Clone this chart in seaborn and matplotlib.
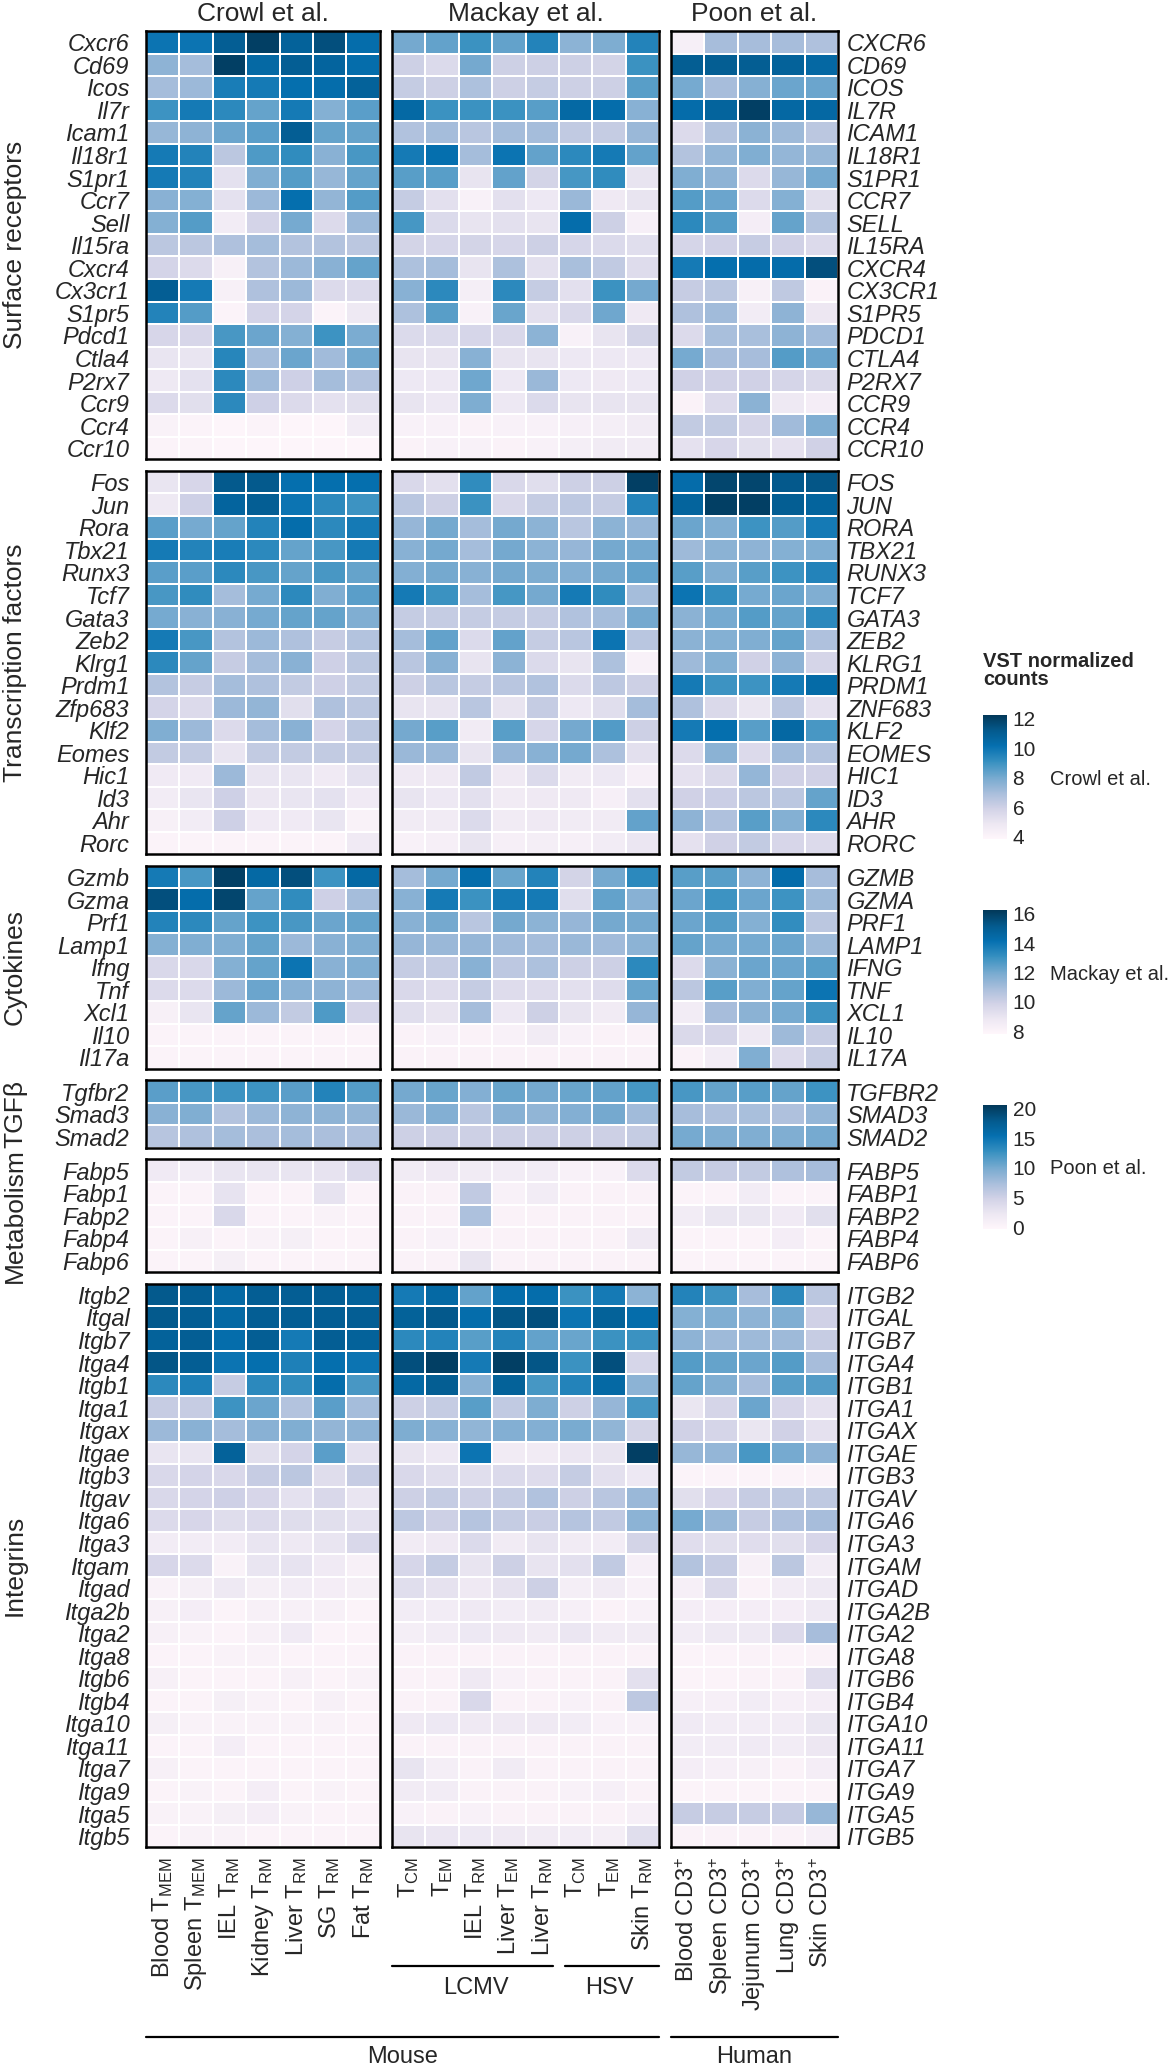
import numpy as np
import pandas as pd
import matplotlib
matplotlib.use('Agg')
import matplotlib.pyplot as plt
from matplotlib.lines import Line2D
import seaborn as sns

sns.set_style('white')
plt.rcParams['font.family'] = ['Liberation Sans', 'DejaVu Sans']
plt.rcParams['mathtext.fontset'] = 'custom'
plt.rcParams['mathtext.rm'] = 'Liberation Sans'
plt.rcParams['mathtext.it'] = 'Liberation Sans:italic'

# ---- column labels ----
crowl_cols = ['Blood T$_\\mathregular{MEM}$', 'Spleen T$_\\mathregular{MEM}$', 'IEL T$_\\mathregular{RM}$',
              'Kidney T$_\\mathregular{RM}$', 'Liver T$_\\mathregular{RM}$', 'SG T$_\\mathregular{RM}$',
              'Fat T$_\\mathregular{RM}$']
mackay_cols = ['T$_\\mathregular{CM}$', 'T$_\\mathregular{EM}$', 'IEL T$_\\mathregular{RM}$',
               'Liver T$_\\mathregular{EM}$', 'Liver T$_\\mathregular{RM}$', 'T$_\\mathregular{CM}$',
               'T$_\\mathregular{EM}$', 'Skin T$_\\mathregular{RM}$']
poon_cols = ['Blood CD3$^{+}$', 'Spleen CD3$^{+}$', 'Jejunum CD3$^{+}$', 'Lung CD3$^{+}$', 'Skin CD3$^{+}$']

# ---- gene names (mouse) ----
surface_genes = ['Cxcr6', 'Cd69', 'Icos', 'Il7r', 'Icam1', 'Il18r1', 'S1pr1', 'Ccr7', 'Sell', 'Il15ra',
                 'Cxcr4', 'Cx3cr1', 'S1pr5', 'Pdcd1', 'Ctla4', 'P2rx7', 'Ccr9', 'Ccr4', 'Ccr10']
tf_genes = ['Fos', 'Jun', 'Rora', 'Tbx21', 'Runx3', 'Tcf7', 'Gata3', 'Zeb2', 'Klrg1', 'Prdm1', 'Zfp683',
            'Klf2', 'Eomes', 'Hic1', 'Id3', 'Ahr', 'Rorc']
cyto_genes = ['Gzmb', 'Gzma', 'Prf1', 'Lamp1', 'Ifng', 'Tnf', 'Xcl1', 'Il10', 'Il17a']
tgf_genes = ['Tgfbr2', 'Smad3', 'Smad2']
metab_genes = ['Fabp5', 'Fabp1', 'Fabp2', 'Fabp4', 'Fabp6']
int_genes = ['Itgb2', 'Itgal', 'Itgb7', 'Itga4', 'Itgb1', 'Itga1', 'Itgax', 'Itgae', 'Itgb3', 'Itgav',
             'Itga6', 'Itga3', 'Itgam', 'Itgad', 'Itga2b', 'Itga2', 'Itga8', 'Itgb6', 'Itgb4', 'Itga10',
             'Itga11', 'Itga7', 'Itga9', 'Itga5', 'Itgb5']
human_override = {'Zfp683': 'ZNF683'}

# ---- VST values: surface receptors ----
crowl_surface = [
    [10, 10, 11, 12, 10.8, 11.5, 10.3],
    [7.5, 7, 12, 10.5, 11, 10.7, 10.3],
    [7, 7.2, 9.7, 9.8, 10.2, 10.3, 10.8],
    [9, 9.8, 9.3, 8.3, 9.8, 7.7, 8.5],
    [7.3, 7.5, 8.2, 8.5, 11, 8.3, 8.3],
    [9.8, 9.5, 6.5, 8.7, 9.2, 7.6, 8.8],
    [9.8, 9.5, 5.2, 7.8, 8.6, 7.3, 8.3],
    [7.6, 7.7, 5.2, 7.2, 10.2, 7.4, 8.6],
    [7.7, 8.6, 4.6, 5.8, 8, 5.5, 7.2],
    [6.5, 6.5, 6.8, 7, 6.7, 6.7, 6.5],
    [5.8, 5.5, 4.3, 6.7, 7.2, 7.6, 8.3],
    [11, 9.8, 4.3, 6.8, 7.2, 5.5, 5.5],
    [9.5, 8.6, 4.1, 5.8, 5.8, 4.1, 4.8],
    [5.7, 5.7, 8.8, 8.2, 7.7, 9, 7.9],
    [5, 5, 9.4, 7, 8.2, 7.1, 8.1],
    [4.8, 5.2, 9.3, 7.1, 6, 7, 6.7],
    [5.5, 5.3, 9.3, 6, 5.5, 5.2, 5.3],
    [4.2, 4.1, 4, 4.1, 4, 4, 4.6],
    [4.1, 4.1, 4, 4, 4, 4, 4],
]
mackay_surface = [
    [12, 12.3, 13, 12.3, 13.5, 11.5, 11.8, 13.5],
    [10, 9.5, 12, 10, 10, 10, 9.8, 13],
    [10.2, 10, 10.8, 10, 10.2, 10, 10, 12.5],
    [14.5, 13, 13, 13, 12.5, 14.5, 14.3, 11.6],
    [10.7, 11, 10.5, 11, 11, 10.3, 10.2, 11.2],
    [13.8, 14.2, 11, 14, 12.3, 13.3, 13.8, 12.3],
    [12.5, 12.5, 9, 12.3, 9.8, 12.8, 13.2, 9],
    [10.2, 9.2, 8.2, 9.2, 8.8, 11.2, 8.7, 9],
    [12.8, 9.5, 9, 9.2, 9, 14.3, 10, 8.3],
    [9.8, 9.7, 9.8, 9.7, 10, 9.7, 9.5, 9.3],
    [10.8, 11, 9, 10.8, 9.2, 10.9, 10.3, 9.4],
    [11.6, 13.3, 8.4, 13.3, 10.2, 9.2, 13, 12],
    [10.8, 12.5, 8.2, 12.2, 9.2, 9.6, 12.1, 8.7],
    [9.5, 9.5, 9.7, 9.6, 11.5, 8.2, 9, 9.8],
    [9, 9, 11.6, 9, 9, 8.8, 8.8, 8.8],
    [8.8, 8.8, 12.1, 8.8, 11.2, 8.8, 8.7, 8.8],
    [9, 8.8, 11.8, 8.8, 9.5, 9, 9, 9],
    [8.2, 8.2, 8.1, 8.2, 8.2, 8.3, 8.4, 8.6],
    [8.1, 8.2, 8.2, 8.1, 8.2, 8.4, 8.6, 8.6],
]
poon_surface = [
    [1, 7.5, 7.5, 7.5, 7],
    [17.5, 17.5, 17.5, 17, 16.3],
    [10, 7.5, 9.2, 10.5, 10.5],
    [15.8, 16.8, 20, 16.3, 16.3],
    [3.8, 6.8, 9, 8, 6.3],
    [6.8, 8.5, 9.5, 8.5, 8.3],
    [9.5, 8.8, 3.8, 8.3, 10],
    [11.5, 10.5, 3.8, 9.3, 3.3],
    [13.3, 11.5, 1.3, 10.8, 6.8],
    [4.5, 5, 5.5, 5, 3.8],
    [14.5, 15.5, 15.8, 15.8, 18.8],
    [5.5, 6.3, 0.8, 6, 0.5],
    [7, 7.8, 1.5, 8.8, 2.3],
    [3.8, 7.3, 7.3, 8.8, 7.8],
    [10, 7.5, 7.5, 11.5, 10.5],
    [5, 5, 5, 4.5, 4],
    [0.5, 3.8, 9, 2, 1.3],
    [5.8, 5.8, 4.5, 7.8, 9.5],
    [3, 4.3, 3.3, 3, 5],
]

# ---- transcription factors ----
crowl_tf = [
    [5, 5.7, 11.2, 11.2, 10.2, 10.2, 10.2],
    [4.8, 6, 10.7, 11, 10, 9.3, 9],
    [8.5, 8, 8.3, 9.5, 10.3, 9.3, 9.8],
    [9.8, 9.5, 9.7, 9.3, 8.3, 8.8, 9.8],
    [8.5, 8.5, 9.3, 8.8, 8.3, 8.8, 8.3],
    [8.8, 9.2, 7, 8, 9.3, 7.8, 8.5],
    [8, 7.6, 7.6, 8, 8.3, 8.3, 7.8],
    [9.8, 8.8, 6.7, 7.2, 6.8, 6.2, 6.7],
    [9.3, 8.3, 6.2, 7, 7.6, 6, 6.5],
    [6.7, 6.2, 7, 6.8, 6.3, 6, 6.3],
    [5.8, 5.5, 7.2, 7.4, 5.3, 6.8, 6.5],
    [7.8, 7.2, 5.5, 7, 7.6, 5.8, 6.5],
    [6.3, 6.3, 5, 6.3, 6.3, 6.3, 6.3],
    [4.7, 4.7, 7.2, 5, 5, 4.7, 5.2],
    [4.6, 5, 6, 4.9, 5, 5.2, 4.7],
    [4.3, 4.6, 6, 4.7, 4.7, 5, 4.2],
    [4.1, 4.1, 4.1, 4.1, 4.1, 4.1, 4.7],
]
mackay_tf = [
    [9.6, 9.2, 13.2, 9.6, 9.3, 10, 10, 16],
    [10.5, 10, 13, 9.6, 10.2, 10.4, 10.2, 13.5],
    [11.3, 12, 11, 12, 11.5, 10.5, 11.5, 11.3],
    [11.6, 12, 11, 12, 11.5, 11.3, 12, 12],
    [11.7, 12, 11.6, 12, 11.8, 11.7, 12, 12.3],
    [13.8, 13, 11, 12.8, 12, 13.8, 13.2, 11],
    [10.2, 10.2, 10.2, 10.2, 10.2, 10.7, 11, 12],
    [11, 12.3, 9.5, 12.3, 10.2, 10.5, 14, 10.5],
    [10.5, 11.6, 9, 11.5, 9.5, 9, 10.8, 8.2],
    [10, 10.5, 10.2, 10.5, 10.7, 9.5, 10.4, 10],
    [9, 9, 10.5, 9, 10.2, 8.8, 9.3, 11],
    [12, 12.5, 8.6, 12.5, 9.7, 12, 12.6, 10],
    [11.2, 11.2, 9, 11.3, 11.6, 12, 10.8, 9.2],
    [8.7, 8.7, 10.3, 8.7, 9.5, 8.6, 8.8, 8.3],
    [9, 8.8, 9.2, 8.6, 8.7, 8.7, 8.3, 9.2],
    [8.6, 8.6, 9.5, 8.6, 8.7, 8.6, 8.6, 12.3],
    [8.2, 8.3, 9, 8.3, 8.4, 8.3, 8.5, 8.9],
]
poon_tf = [
    [15.8, 19.5, 19.5, 18, 18.3],
    [16.8, 20, 20, 17.5, 16.8],
    [10.5, 9.5, 12.5, 11.5, 14.5],
    [8, 9, 8.8, 9.3, 9.5],
    [11.3, 9.5, 11.3, 12.5, 13.8],
    [15, 13, 10, 10.5, 9.5],
    [9, 10, 11.5, 10.8, 13.3],
    [9, 9.3, 9.5, 10.8, 7],
    [8, 9.3, 5, 8.8, 4.5],
    [14.5, 12.5, 12.5, 14.5, 16],
    [7, 4, 2.5, 6.3, 3],
    [14.5, 15.5, 11.3, 16.3, 12],
    [3.8, 9, 3.8, 7.8, 6.8],
    [3, 4, 8.5, 5, 5],
    [5, 5.3, 6.3, 6.3, 10.8],
    [8.8, 7, 11.3, 9.3, 13.3],
    [3, 5, 5.8, 4.3, 3.8],
]

# ---- cytokines ----
crowl_cyto = [
    [9.8, 8.8, 12, 10.5, 11.5, 9, 10.5],
    [11.5, 10.3, 11.8, 8.3, 9.2, 6, 7],
    [9.5, 9.3, 8.3, 9, 8.8, 8.2, 8.3],
    [7.7, 7.8, 7.8, 8.3, 7.2, 7.6, 7.8],
    [5.6, 5.6, 7.7, 8.3, 10, 7.6, 7.8],
    [5.5, 5.5, 7.2, 8.2, 7.6, 7.5, 7.2],
    [4.3, 5, 8.3, 7.2, 6.3, 8.7, 5.8],
    [4.1, 4.1, 4.1, 4.1, 4.1, 4.1, 4.1],
    [4.1, 4.1, 4.1, 4.1, 4.1, 4.1, 4.1],
]
mackay_cyto = [
    [11, 12, 14.3, 12.2, 13.5, 9.8, 12, 13.3],
    [11.6, 13.8, 13, 13.8, 13.8, 9.3, 12.3, 11.6],
    [11.6, 12, 10.5, 12, 11.5, 11.3, 12, 12],
    [11.3, 11.2, 11.3, 11.1, 11, 11.2, 11.1, 11.5],
    [10.2, 10.2, 11.6, 10.4, 10.8, 10, 10, 13.3],
    [9.6, 9.4, 10.2, 9.4, 9.4, 9.2, 9.4, 12.2],
    [9.3, 9, 11, 8.8, 10, 9, 8.6, 11.3],
    [8.1, 8.2, 8.1, 8.2, 8.6, 8.2, 8.1, 8.1],
    [8.1, 8.1, 8.1, 8.1, 8.1, 8.1, 8.1, 8.1],
]
poon_cyto = [
    [11.3, 11.3, 8.8, 15.8, 7.5],
    [10.5, 12.5, 10.5, 12.5, 8],
    [10.5, 11.5, 9.3, 13, 6.3],
    [10.8, 10, 10, 10.5, 8],
    [3.8, 9, 10.5, 10.5, 11.3],
    [6.3, 11.3, 9.5, 10.8, 15],
    [1.5, 7.5, 9, 10, 12.5],
    [4, 4.5, 2, 8, 5.5],
    [0.5, 1.5, 9.5, 3.8, 5.5],
]

# ---- TGFb ----
crowl_tgf = [
    [8.5, 8.8, 9, 9, 8.5, 9.5, 8.6],
    [7.6, 7.8, 6.7, 7.2, 7.5, 7.5, 7.4],
    [6.6, 6.8, 7, 6.9, 7, 6.9, 6.8],
]
mackay_tgf = [
    [12, 12.2, 11.7, 12.2, 12, 12.2, 12.3, 12.8],
    [11.2, 11.7, 10.5, 11.6, 11.4, 11.7, 12, 11.1],
    [10, 10, 10, 10, 10, 10, 10, 10.2],
]
poon_tgf = [
    [12, 10.8, 11.3, 10.8, 12.5],
    [7.5, 7, 7.3, 7, 8.5],
    [10, 9.5, 9.5, 9.5, 10],
]

# ---- metabolism ----
crowl_metab = [
    [4.7, 4.6, 5, 5, 5, 5.1, 5.5],
    [4.1, 4.1, 5.1, 4.1, 4.1, 5.1, 4.1],
    [4.1, 4.1, 5.6, 4.1, 4.1, 4.2, 4.1],
    [4.1, 4.3, 4.1, 4.2, 4.4, 4.1, 4.1],
    [4.1, 4.1, 4.4, 4.1, 4.1, 4.1, 4.1],
]
mackay_metab = [
    [8.6, 8.7, 8.6, 8.5, 8.5, 8.2, 8.2, 9.5],
    [8.1, 8.1, 10.3, 8.2, 8.5, 8.1, 8.1, 8.1],
    [8.1, 8.1, 10.8, 8.1, 8.1, 8.1, 8.1, 8.1],
    [8.1, 8.2, 8.1, 8.1, 8.1, 8.1, 8.1, 8.7],
    [8.1, 8.1, 9, 8.1, 8.1, 8.1, 8.1, 8.1],
]
poon_metab = [
    [5.8, 5.5, 5.8, 7, 7.5],
    [0.3, 0.3, 1.5, 0.3, 0.3],
    [1.5, 2.5, 2.5, 1.8, 3.3],
    [0.3, 0.3, 0.3, 1.3, 0.3],
    [0.3, 0.3, 0.3, 0.3, 0.3],
]

# ---- integrins ----
crowl_int = [
    [11.2, 11, 10.5, 11, 11, 11, 10.8],
    [11.2, 11, 10.5, 11, 11, 11, 11],
    [10.8, 11, 10.3, 11, 9.8, 11, 10.8],
    [11.3, 11, 10, 10.2, 9.6, 10.2, 10],
    [9.3, 9.6, 6.2, 9.3, 9.2, 10.3, 8.8],
    [6.2, 6.2, 9, 8.2, 6.7, 8.5, 7],
    [7.2, 7.6, 7, 7.6, 7.8, 7.4, 7.5],
    [5, 5, 10.8, 5.3, 5.8, 8.5, 5.2],
    [5.6, 5.8, 5.6, 6.2, 6.5, 5.4, 6.2],
    [5.6, 5.8, 6, 5.7, 5.2, 5.6, 5],
    [5.5, 5.7, 5.4, 5.5, 5.4, 5.3, 5.2],
    [4.6, 4.6, 4.6, 5, 4.8, 5, 5.6],
    [5.7, 5.5, 4.2, 5, 5.1, 4.7, 4.3],
    [4.2, 4.4, 4.8, 4.4, 4.6, 4.5, 4.4],
    [4.3, 4.5, 4.1, 4.3, 4.3, 4.3, 4.1],
    [4.3, 4.2, 4.1, 4.3, 4.7, 4.1, 4.1],
    [4.1, 4.1, 4.2, 4.2, 4.1, 4.1, 4.1],
    [4.3, 4.1, 4.1, 4.1, 4.3, 4.1, 4.2],
    [4.1, 4.1, 4.4, 4.2, 4.1, 4.3, 4.1],
    [4.4, 4.2, 4.2, 4.2, 4.2, 4.2, 4.1],
    [4.1, 4.1, 4.5, 4.1, 4.1, 4.1, 4.1],
    [4.3, 4.1, 4.1, 4.1, 4.1, 4.1, 4.1],
    [4.1, 4.2, 4.1, 4.5, 4.1, 4.2, 4.1],
    [4.2, 4.2, 4.4, 4.5, 4.2, 4.1, 4.1],
    [4.1, 4.2, 4.2, 4.1, 4.1, 4.1, 4.1],
]
mackay_int = [
    [13.8, 14.5, 12.3, 14.3, 14.3, 13, 13.8, 11.5],
    [14.8, 15.2, 14.3, 15.3, 15.5, 14, 14.8, 14.3],
    [13.3, 13.5, 12.5, 13.5, 12.3, 12.2, 13, 13],
    [15.5, 16, 13.8, 16, 15.3, 13, 15.5, 9.7],
    [14.5, 15, 11.6, 14.8, 12.8, 13.5, 14.5, 11.5],
    [10, 10.2, 12.5, 10.3, 11.8, 10, 11.3, 12.8],
    [11.8, 11.6, 11.4, 11.7, 11.7, 11.9, 11.4, 9.8],
    [9, 8.8, 14, 8.6, 8.6, 8.9, 9, 16],
    [9.6, 9.3, 9.3, 9.5, 9.4, 10.2, 9.2, 8.8],
    [10, 10.2, 10, 10.2, 10.7, 10, 10.5, 11.2],
    [10.4, 10, 10.6, 10.2, 10.1, 10.6, 10.3, 11.5],
    [8.6, 8.7, 9.5, 8.6, 9, 8.6, 8.5, 9.8],
    [9.7, 10.2, 9, 10, 9, 9.2, 10.3, 8.3],
    [9.3, 9.1, 8.7, 9.1, 10, 8.4, 8.6, 8.2],
    [8.5, 8.5, 8.7, 8.5, 8.6, 8.3, 8.1, 8.2],
    [8.4, 8.5, 8.8, 8.7, 8.6, 8.9, 8.6, 8.6],
    [8.1, 8.1, 8.1, 8.1, 8.1, 8.1, 8.1, 8.1],
    [8.1, 8.1, 8.7, 8.2, 8.1, 8.1, 8.1, 9.2],
    [8.1, 8.1, 9.6, 8.1, 8.1, 8.2, 8.1, 10.4],
    [8.7, 8.8, 8.7, 8.7, 8.7, 8.5, 8.2, 8.2],
    [8.1, 8.1, 8.1, 8.1, 8.1, 8.1, 8.1, 8.1],
    [9, 8.4, 8.1, 8.6, 8.1, 8.1, 8.1, 8.1],
    [8.6, 8.5, 8.1, 8.1, 8.1, 8.2, 8.3, 8.1],
    [8.2, 8.1, 8.2, 8.1, 8.1, 8.1, 8.1, 8.3],
    [9, 8.9, 8.8, 8.7, 8.6, 8.5, 8.4, 9.3],
]
poon_int = [
    [13.8, 12.5, 7.5, 13.3, 6.3],
    [9.3, 9.5, 8.8, 9.5, 5],
    [8.8, 8, 8, 8, 5.5],
    [11.5, 10.8, 10.5, 11.5, 7.5],
    [10.8, 9.5, 7.5, 11.3, 11.5],
    [2.5, 4.5, 10.5, 4.3, 3],
    [5, 4.5, 2.5, 5, 3],
    [8.3, 8.5, 12, 10, 8.8],
    [0.3, 0.3, 0.3, 0.3, 0.3],
    [3.3, 4.3, 5.5, 6, 6],
    [10, 8.3, 5.5, 7, 7.5],
    [3.5, 3.3, 3.5, 3.3, 4.3],
    [6.8, 5.5, 0.8, 6.3, 1.5],
    [1, 4, 0.5, 1.5, 2],
    [1.3, 1.3, 1.3, 1.3, 2],
    [1.5, 2, 2, 3.8, 7.5],
    [0.3, 0.3, 0.5, 0.3, 0.5],
    [0.3, 0.3, 0.5, 0.5, 3.5],
    [1, 1, 1.5, 1, 1.3],
    [1.8, 1.5, 1.5, 1.5, 2.5],
    [1.5, 1.5, 1.8, 1.5, 2.3],
    [1.3, 1, 0.8, 0.5, 1.3],
    [0.3, 0.3, 0.3, 0.3, 0.3],
    [5.5, 5.5, 5.5, 5.5, 8.3],
    [0.5, 0.5, 0.5, 0.5, 1],
]

sections = [
    ('Surface receptors', surface_genes, crowl_surface, mackay_surface, poon_surface),
    ('Transcription factors', tf_genes, crowl_tf, mackay_tf, poon_tf),
    ('Cytokines', cyto_genes, crowl_cyto, mackay_cyto, poon_cyto),
    ('TGFβ', tgf_genes, crowl_tgf, mackay_tgf, poon_tgf),
    ('Metabolism', metab_genes, crowl_metab, mackay_metab, poon_metab),
    ('Integrins', int_genes, crowl_int, mackay_int, poon_int),
]

# dataset name, columns, colour limits, colourbar ticks
datasets = [
    ('Crowl et al.', crowl_cols, 3.85, 12.25, [4, 6, 8, 10, 12]),
    ('Mackay et al.', mackay_cols, 7.8, 16.25, [8, 10, 12, 14, 16]),
    ('Poon et al.', poon_cols, -0.3, 20.6, [0, 5, 10, 15, 20]),
]

# ---- layout (pixels) ----
W, H = 1169, 2070
panel_x = [146, 392, 671]
col_w = 33.4
row_h = 22.55
gap = 11.5
top = 31

fig = plt.figure(figsize=(W / 100, H / 100), dpi=100)


def px_axes(x, y, w, h):
    return fig.add_axes([x / W, 1 - (y + h) / H, w / W, h / H])


mesh = {}
y = top
for si, (sec_name, genes, *mats) in enumerate(sections):
    h = len(genes) * row_h
    for di, (dname, cols, vmin, vmax, _) in enumerate(datasets):
        ax = px_axes(panel_x[di], y, len(cols) * col_w, h)
        df = pd.DataFrame(mats[di], index=genes, columns=range(len(cols)))
        sns.heatmap(df, ax=ax, cmap='PuBu', vmin=vmin, vmax=vmax, cbar=False,
                    linewidths=1.2, linecolor='white', xticklabels=False, yticklabels=False)
        for s in ax.spines.values():
            s.set_visible(True)
            s.set_linewidth(1.8)
            s.set_color('black')
        ax.tick_params(length=0)
        if di == 0:
            ax.set_yticks(np.arange(len(genes)) + 0.5)
            ax.set_yticklabels(genes, rotation=0, fontsize=17, fontstyle='italic')
            ax.tick_params(axis='y', pad=12)
        elif di == 2:
            ax.yaxis.tick_right()
            ax.set_yticks(np.arange(len(genes)) + 0.5)
            ax.set_yticklabels([human_override.get(g, g.upper()) for g in genes],
                               rotation=0, fontsize=17, fontstyle='italic')
            ax.tick_params(axis='y', pad=6, length=0)
        if si == len(sections) - 1:
            ax.set_xticks(np.arange(len(cols)) + 0.5)
            ax.set_xticklabels(cols, rotation=90, fontsize=17)
            ax.tick_params(axis='x', pad=7)
        if si == 0:
            mesh[di] = ax.collections[0]
        ax.set_xlabel('')
        ax.set_ylabel('')
    fig.text(15 / W, 1 - (y + h / 2) / H, sec_name, rotation=90, ha='center', va='center', fontsize=19)
    y += h + gap

# ---- dataset titles ----
for di, (dname, cols, *_ ) in enumerate(datasets):
    cx = panel_x[di] + len(cols) * col_w / 2
    fig.text(cx / W, 1 - 14 / H, dname, ha='center', va='center', fontsize=19)


# ---- bracket lines under column labels ----
def hline(x0, x1, yy):
    fig.add_artist(Line2D([x0 / W, x1 / W], [1 - yy / H, 1 - yy / H], transform=fig.transFigure,
                          color='black', lw=1.6))


mx = panel_x[1]
hline(mx, mx + 5 * col_w - 6, 1966)
hline(mx + 5 * col_w + 6, mx + 8 * col_w, 1966)
fig.text((mx + 2.5 * col_w) / W, 1 - 1988 / H, 'LCMV', ha='center', va='center', fontsize=17)
fig.text((mx + 6.5 * col_w) / W, 1 - 1988 / H, 'HSV', ha='center', va='center', fontsize=17)
hline(panel_x[0], panel_x[1] + 8 * col_w, 2037)
hline(panel_x[2], panel_x[2] + 5 * col_w, 2037)
fig.text(((panel_x[0] + panel_x[1] + 8 * col_w) / 2) / W, 1 - 2057 / H, 'Mouse',
         ha='center', va='center', fontsize=17)
fig.text((panel_x[2] + 2.5 * col_w) / W, 1 - 2057 / H, 'Human', ha='center', va='center', fontsize=17)

# ---- colour legends ----
fig.text(983 / W, 1 - 652 / H, 'VST normalized\ncounts', ha='left', va='top', fontsize=14.5,
         fontweight='bold', linespacing=0.95)
bar_tops = [715, 910, 1105]
for di, (dname, cols, vmin, vmax, ticks) in enumerate(datasets):
    cax = px_axes(983, bar_tops[di], 24, 124)
    cb = fig.colorbar(mesh[di], cax=cax)
    cb.outline.set_visible(False)
    cb.set_ticks(ticks)
    cax.tick_params(axis='y', direction='in', length=4, width=1.2, color='white',
                    left=True, right=True, labelleft=False, labelright=True, labelsize=15, pad=4)
    fig.text(1050 / W, 1 - (bar_tops[di] + 64) / H, dname, ha='left', va='center', fontsize=14.5)

fig.savefig('out.png', dpi=100)
